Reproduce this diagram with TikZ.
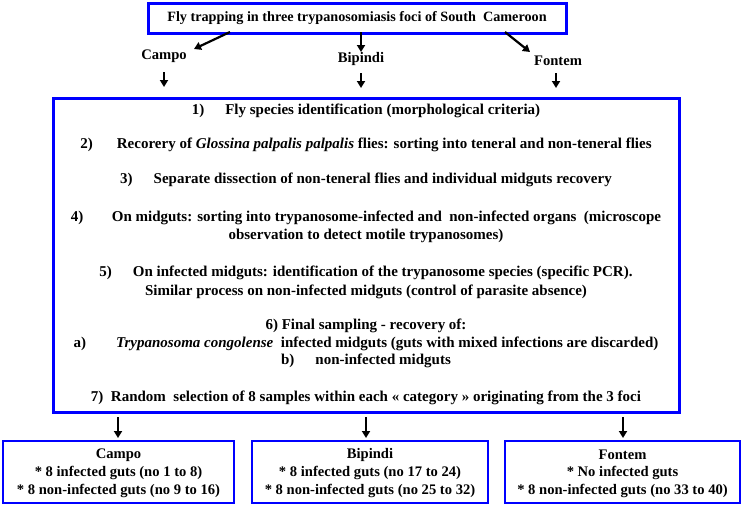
\documentclass[tikz,border=0pt]{standalone}
\usepackage{fontspec}
\setmainfont{Liberation Serif}
\usetikzlibrary{arrows.meta}
\begin{document}
\begin{tikzpicture}[x=1pt,y=-1pt,
  txt/.style={font=\fontsize{14.6}{17}\selectfont\bfseries, inner sep=0pt, align=center},
  mtxt/.style={txt, font=\fontsize{15}{17}\selectfont\bfseries},
  bigbox/.style={draw=blue, line width=3pt, fill=white},
  smallbox/.style={draw=blue, line width=1.3pt, fill=white},
  arr/.style={line width=2.2pt, -{Triangle[length=7pt,width=8pt]}},
]
\useasboundingbox (0,0) rectangle (743,507);
% top box
\node[bigbox, minimum width=418, minimum height=30, inner sep=0pt] (top) at (357,18) {};
\node[txt, font=\fontsize{14.2}{17}\selectfont\bfseries] (toptxt) at (top.center) {Fly trapping in three trypanosomiasis foci of South\ \ Cameroon};
% foci labels
\node[txt] (campo) at (164,56) {Campo};
\node[txt] (bipindi) at (361,59) {Bipindi};
\node[txt] (fontem) at (558,61) {Fontem};
\coordinate (c1s) at (230,32); \coordinate (c1e) at (194,49);
\coordinate (b1s) at (361,32); \coordinate (b1e) at (361,52);
\coordinate (f1s) at (505,32); \coordinate (f1e) at (530,52);
\draw[arr] (c1s) -- (c1e);
\draw[arr] (b1s) -- (b1e);
\draw[arr] (f1s) -- (f1e);
\coordinate (c2s) at (164,72); \coordinate (c2e) at (164,87);
\coordinate (b2s) at (361,73); \coordinate (b2e) at (361,88);
\coordinate (f2s) at (556,73); \coordinate (f2e) at (556,88);
\draw[arr] (c2s) -- (c2e);
\draw[arr] (b2s) -- (b2e);
\draw[arr] (f2s) -- (f2e);
% main box
\node[bigbox, minimum width=626, minimum height=314, inner sep=0pt] (main) at (366,255) {};
\node[mtxt] (l1) at (366,111) {1)\hspace{1.4em}Fly species identification (morphological criteria)};
\node[mtxt] (l2) at (366,145) {2)\hspace{1.6em}Recorery of \textit{Glossina palpalis palpalis} flies: sorting into teneral and\ non-teneral flies};
\node[mtxt] (l3) at (366,180) {3)\hspace{1.4em}Separate\ dissection of non-teneral flies and\ individual midguts\ recovery};
\node[mtxt] (l4) at (366,218) {4)\hspace{1.9em}On midguts: sorting into trypanosome-infected and\ \ non-infected organs\ \ (microscope};
\node[mtxt] (l4b) at (366,236) {observation to detect motile trypanosomes)};
\node[mtxt] (l5) at (366,273) {5)\hspace{1.4em}On infected midguts: identification of the trypanosome species\ (specific PCR).};
\node[mtxt] (l5b) at (366,292) {Similar process on non-infected midguts (control of\ parasite absence)};
\node[mtxt] (l6) at (366,326) {6) Final sampling - recovery of:};
\node[mtxt] (l6a) at (366,344) {a)\hspace{2em}\textit{Trypanosoma\ congolense}\ \ infected midguts (guts with mixed\ infections are discarded)};
\node[mtxt] (l6b) at (366,361) {b)\hspace{1.4em}non-infected midguts};
\node[mtxt] (l7) at (366,398) {7)\ \ Random\ \ selection of 8 samples within each « category » originating from the 3 foci};
% bottom arrows
\coordinate (m1) at (118,417); \coordinate (m1e) at (118,438);
\coordinate (m2) at (366,417); \coordinate (m2e) at (366,438);
\coordinate (m3) at (623,417); \coordinate (m3e) at (623,438);
\draw[arr] (m1) -- (m1e);
\draw[arr] (m2) -- (m2e);
\draw[arr] (m3) -- (m3e);
% bottom boxes
\node[smallbox, minimum width=231, minimum height=62, inner sep=0pt] (bc) at (118.5,472) {};
\node[smallbox, minimum width=236, minimum height=62, inner sep=0pt] (bb) at (370,472) {};
\node[smallbox, minimum width=235, minimum height=62, inner sep=0pt] (bf) at (622.5,472) {};
\node[txt] (bc1) at (118.5,455) {Campo};
\node[txt] (bc2) at (118.5,473) {* 8 infected guts (no 1 to 8)};
\node[txt] (bc3) at (118.5,491) {* 8 non-infected guts (no 9 to 16)};
\node[txt] (bb1) at (370,455) {Bipindi};
\node[txt] (bb2) at (370,473) {* 8 infected guts (no 17 to 24)};
\node[txt] (bb3) at (370,491) {* 8 non-infected guts (no 25 to 32)};
\node[txt] (bf1) at (622.5,455) {Fontem};
\node[txt] (bf2) at (622.5,473) {* No infected guts};
\node[txt] (bf3) at (622.5,491) {* 8 non-infected guts (no 33 to 40)};
\end{tikzpicture}
\end{document}
